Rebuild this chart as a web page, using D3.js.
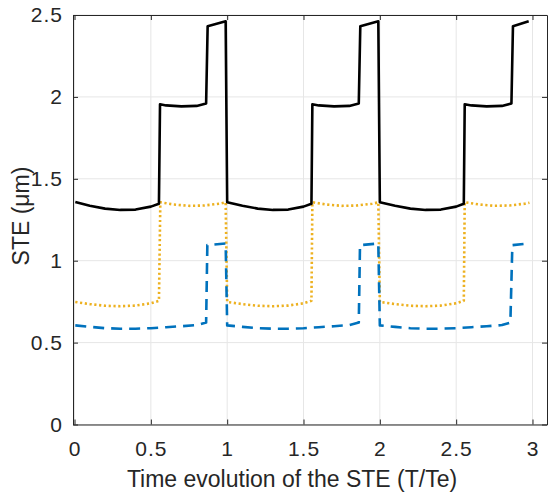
<!DOCTYPE html>
<html>
<head>
<meta charset="utf-8">
<script src="https://cdn.jsdelivr.net/npm/d3@7"></script>
<style>
  html, body { margin: 0; padding: 0; background: #fff; }
  svg { display: block; }
  text { font-family: Arial, "Liberation Sans", Helvetica, sans-serif; fill: #262626; }
</style>
</head>
<body>
<svg id="chart" width="550" height="497"></svg>
<script>
// ---- data ----
const xTicks = [0, 0.5, 1, 1.5, 2, 2.5, 3];
const yTicks = [0, 0.5, 1, 1.5, 2, 2.5];
const xTickLabels = ["0", "0.5", "1", "1.5", "2", "2.5", "3"];
const yTickLabels = ["0", "0.5", "1", "1.5", "2", "2.5"];
const xLabel = "Time evolution of the STE (T/Te)";
const yLabel = "STE (μm)";

// black solid series
const blackT = [0.005,0.1,0.2,0.3,0.4,0.5,0.553,0.56,0.6,0.7,0.8,0.862,0.872,0.99,1.0,
  1.1,1.2,1.3,1.4,1.5,1.552,1.558,1.6,1.7,1.8,1.862,1.872,1.99,2.0,
  2.1,2.2,2.3,2.4,2.5,2.550,2.556,2.6,2.7,2.8,2.862,2.872,2.975];
const blackSTE = [1.358,1.335,1.318,1.310,1.312,1.330,1.348,1.955,1.948,1.942,1.945,1.960,2.432,2.462,1.357,
  1.335,1.318,1.310,1.312,1.330,1.348,1.955,1.948,1.942,1.945,1.960,2.432,2.462,1.357,
  1.335,1.318,1.310,1.312,1.330,1.348,1.955,1.948,1.942,1.945,1.960,2.432,2.462];

// orange dotted series
const orangeT = [0.005,0.1,0.2,0.3,0.4,0.5,0.553,0.562,0.65,0.75,0.85,0.95,0.99,1.0,
  1.1,1.2,1.3,1.4,1.5,1.552,1.558,1.65,1.75,1.85,1.95,1.99,2.0,
  2.1,2.2,2.3,2.4,2.5,2.550,2.556,2.65,2.75,2.85,2.95,2.98];
const orangeSTE = [0.748,0.735,0.725,0.722,0.726,0.740,0.755,1.357,1.343,1.335,1.337,1.348,1.356,0.748,
  0.735,0.725,0.722,0.726,0.740,0.755,1.357,1.343,1.335,1.337,1.348,1.356,0.748,
  0.735,0.725,0.722,0.726,0.740,0.755,1.357,1.343,1.335,1.337,1.348,1.354];

// blue dashed series
const blueT = [0.005,0.1,0.2,0.3,0.4,0.5,0.6,0.7,0.8,0.862,0.870,0.99,1.0,
  1.1,1.2,1.3,1.4,1.5,1.6,1.7,1.8,1.862,1.870,1.99,2.0,
  2.1,2.2,2.3,2.4,2.5,2.6,2.7,2.8,2.855,2.868,2.97];
const blueSTE = [0.605,0.596,0.588,0.585,0.585,0.588,0.594,0.600,0.607,0.622,1.095,1.105,0.605,
  0.596,0.588,0.585,0.585,0.588,0.594,0.600,0.607,0.622,1.095,1.105,0.605,
  0.596,0.588,0.585,0.585,0.588,0.594,0.600,0.607,0.622,1.095,1.105];

// ---- drawing ----
const svg = d3.select("#chart");
const L = 73, R = 547, T = 15, B = 424.5;
const x = d3.scaleLinear().domain([-0.01, 3.095]).range([L, R]);
const y = d3.scaleLinear().domain([0, 2.5]).range([B, T]);

// grid
const grid = svg.append("g");
grid.selectAll("line.gx").data(xTicks).enter().append("line")
  .attr("x1", d => x(d)).attr("x2", d => x(d)).attr("y1", T).attr("y2", B)
  .attr("stroke", "#e6e6e6").attr("stroke-width", 1);
grid.selectAll("line.gy").data(yTicks).enter().append("line")
  .attr("y1", d => y(d)).attr("y2", d => y(d)).attr("x1", L).attr("x2", R)
  .attr("stroke", "#e6e6e6").attr("stroke-width", 1);

// series
const series = [
  {t: orangeT, v: orangeSTE, color: "#EDB120", dash: "2.2,2.6", w: 2.6},
  {t: blueT, v: blueSTE, color: "#0072BD", dash: "11,7", w: 2.6},
  {t: blackT, v: blackSTE, color: "#000000", dash: null, w: 2.6}
];
const line = d3.line().x(d => x(d[0])).y(d => y(d[1]));
series.forEach(s => {
  const pts = s.t.map((t, i) => [t, s.v[i]]);
  const p = svg.append("path").datum(pts)
    .attr("d", line).attr("fill", "none")
    .attr("stroke", s.color).attr("stroke-width", s.w)
    .attr("stroke-linejoin", "round");
  if (s.dash) p.attr("stroke-dasharray", s.dash);
});

// axes (MATLAB style: inward ticks, box)
const axColor = "#262626";
const xAxisB = d3.axisBottom(x).tickValues(xTicks).tickSize(-5).tickFormat((d, i) => xTickLabels[i]).tickPadding(17);
const xAxisT = d3.axisTop(x).tickValues(xTicks).tickSize(-5).tickFormat("");
const yAxisL = d3.axisLeft(y).tickValues(yTicks).tickSize(-5).tickFormat((d, i) => yTickLabels[i]).tickPadding(10);
const yAxisR = d3.axisRight(y).tickValues(yTicks).tickSize(-5).tickFormat("");

function style(g) {
  g.selectAll("path.domain").attr("stroke", axColor).attr("stroke-width", 1);
  g.selectAll(".tick line").attr("stroke", axColor).attr("stroke-width", 1);
  g.selectAll(".tick text").style("font-size", "21px").style("letter-spacing", "1px").attr("fill", axColor);
}
svg.append("g").attr("transform", `translate(0,${B})`).call(xAxisB.tickSizeOuter(0)).call(style);
svg.append("g").attr("transform", `translate(0,${T})`).call(xAxisT.tickSizeOuter(0)).call(style);
svg.append("g").attr("transform", `translate(${L},0)`).call(yAxisL.tickSizeOuter(0)).call(style);
svg.append("g").attr("transform", `translate(${R},0)`).call(yAxisR.tickSizeOuter(0)).call(style);

// labels
svg.append("text").attr("x", 292).attr("y", 487)
  .attr("text-anchor", "middle").style("font-size", "23px").text(xLabel);
svg.append("text").attr("transform", "translate(29,216) rotate(-90)")
  .attr("text-anchor", "middle").style("font-size", "23px").text(yLabel);
</script>
</body>
</html>
